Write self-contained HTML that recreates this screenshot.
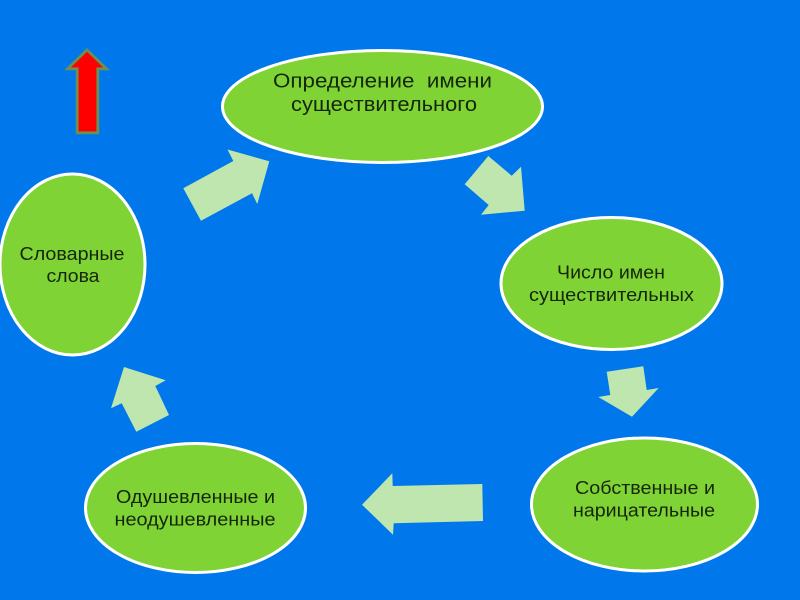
<!DOCTYPE html>
<html>
<head>
<meta charset="utf-8">
<style>
html,body{margin:0;padding:0;width:800px;height:600px;overflow:hidden;background:#0078EC;}
svg{display:block;}
text{font-family:"Liberation Sans",sans-serif;font-size:18px;fill:#16260c;}
text.big{font-size:20px;}
</style>
</head>
<body>
<svg width="800" height="600" viewBox="0 0 800 600" xmlns="http://www.w3.org/2000/svg">
<rect width="800" height="600" fill="#0078EC"/>
<g fill="#7FD335" stroke="#FFFFFF" stroke-width="3">
<ellipse cx="382.5" cy="106.5" rx="160" ry="56"/>
<ellipse cx="611.5" cy="283.5" rx="110.5" ry="66"/>
<ellipse cx="644.5" cy="504.5" rx="113" ry="66.5"/>
<ellipse cx="195.5" cy="508" rx="110" ry="64.5"/>
<ellipse cx="72.5" cy="264.5" rx="72.5" ry="90.5"/>
</g>
<g fill="#BEE6AE">
<polygon points="183.3,188.3 233.3,161 227.5,149.5 269.3,161.3 257.3,204 252,193.3 201,220.7"/>
<polygon points="488.3,156 511.7,175.7 521,166.7 524.7,210.7 481,214.7 488.7,205 464.7,184.3"/>
<polygon points="606.7,371.7 643.3,366.3 646.7,390 658.7,388 632,416.7 598.3,397 610.3,395"/>
<polygon points="482.3,484 483,521 393.7,523.3 393,534.7 362,504.7 392.3,473.3 392.7,486"/>
<polygon points="124,367 165.7,380.3 155.3,386 169,415 136.3,431.7 121.7,403.3 111,408.3"/>
</g>
<polygon points="87,50 106.5,68.8 97.8,68.8 97.8,132.8 77.2,132.8 77.2,68.8 67.5,68.8" fill="#FF0000" stroke="#6B9050" stroke-width="2.8" stroke-linejoin="miter"/>
<text class="big" x="273" y="87.5" xml:space="preserve" textLength="219" lengthAdjust="spacingAndGlyphs">Определение  имени</text>
<text class="big" x="291" y="111" textLength="186" lengthAdjust="spacingAndGlyphs">существительного</text>
<text x="557" y="278.5" textLength="108" lengthAdjust="spacingAndGlyphs">Число имен</text>
<text x="529" y="301" textLength="165" lengthAdjust="spacingAndGlyphs">существительных</text>
<text x="575" y="494" textLength="140" lengthAdjust="spacingAndGlyphs">Собственные и</text>
<text x="573" y="516.5" textLength="142" lengthAdjust="spacingAndGlyphs">нарицательные</text>
<text x="116" y="503" textLength="159" lengthAdjust="spacingAndGlyphs">Одушевленные и</text>
<text x="114.5" y="525.5" textLength="161" lengthAdjust="spacingAndGlyphs">неодушевленные</text>
<text x="19.5" y="260" textLength="105" lengthAdjust="spacingAndGlyphs">Словарные</text>
<text x="46.5" y="282" textLength="53" lengthAdjust="spacingAndGlyphs">слова</text>
</svg>
</body>
</html>
